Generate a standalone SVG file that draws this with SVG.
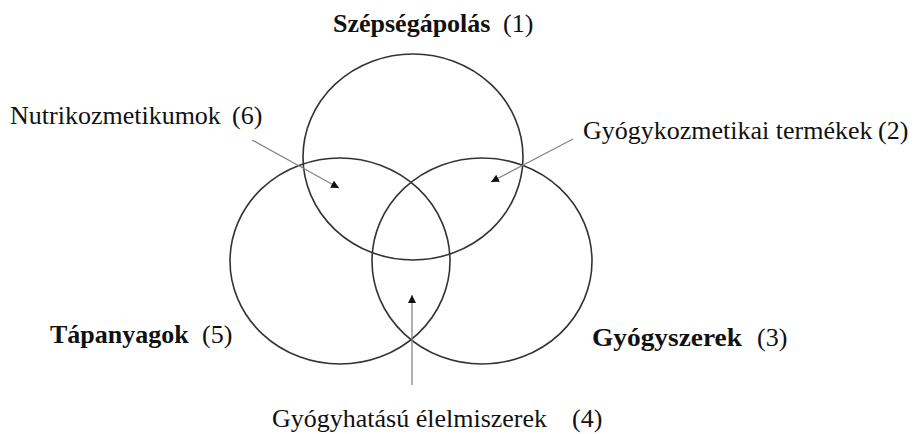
<svg xmlns="http://www.w3.org/2000/svg" width="916" height="434" viewBox="0 0 916 434">
<style>
.c{fill:none;stroke:#333;stroke-width:1.6}
.a{fill:none;stroke:#888;stroke-width:1.3}
text{font-family:"Liberation Serif","Times New Roman",serif;font-size:26px;fill:#111}
.b{font-weight:bold}
</style>
<defs>
<marker id="ah" markerUnits="userSpaceOnUse" markerWidth="10" markerHeight="10" refX="8" refY="4" orient="auto">
<path d="M0,0 L8,4 L0,8 z" fill="#111"/>
</marker>
</defs>
<rect width="916" height="434" fill="#fff"/>
<g id="n1"><ellipse class="c" cx="413" cy="157" rx="110" ry="103"/><text x="333" y="32"><tspan class="b">Szépségápolás</tspan><tspan x="503">(1)</tspan></text></g>
<g id="n5"><ellipse class="c" cx="340" cy="261" rx="110" ry="103"/><text x="50" y="343"><tspan class="b">Tápanyagok</tspan><tspan x="202">(5)</tspan></text></g>
<g id="n3"><ellipse class="c" cx="482" cy="261" rx="110" ry="103"/><text x="592" y="346"><tspan class="b" textLength="150" lengthAdjust="spacingAndGlyphs">Gyógyszerek</tspan><tspan x="757">(3)</tspan></text></g>
<g id="n6"><text x="10" y="124">Nutrikozmetikumok<tspan x="232">(6)</tspan></text></g>
<g id="n2"><text x="583" y="139">Gyógykozmetikai termékek<tspan x="878">(2)</tspan></text></g>
<g id="n4"><text x="272" y="427">Gyógyhatású élelmiszerek<tspan x="572">(4)</tspan></text></g>
<g id="connectors">
<line class="a" x1="252" y1="140" x2="339" y2="188" marker-end="url(#ah)"/>
<line class="a" x1="573" y1="139" x2="491" y2="182" marker-end="url(#ah)"/>
<line class="a" x1="412" y1="385" x2="412" y2="295" marker-end="url(#ah)"/>
</g>
</svg>
